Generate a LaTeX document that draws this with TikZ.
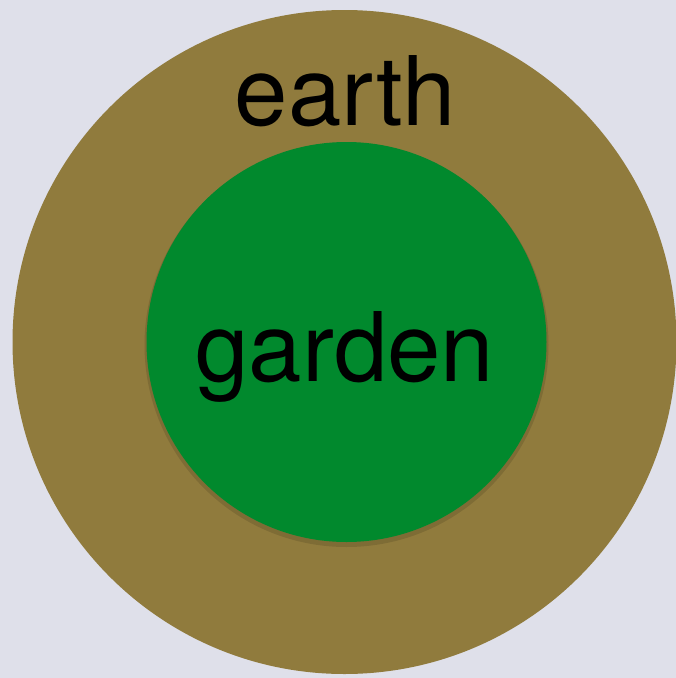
\documentclass[tikz,border=0pt]{standalone}
\usepackage{fontspec}
\setmainfont{TeX Gyre Heros}
\usepackage{xcolor}

\definecolor{backdrop}{HTML}{DFE0EA}
\definecolor{soil}{HTML}{907B3D}
\definecolor{lawn}{HTML}{01892D}

\tikzset{
    disc/.style={circle, inner sep=0pt, draw=none},
    word/.style={anchor=base, inner sep=0pt, font=\fontsize{96}{96}\selectfont}
}

\begin{document}
\begin{tikzpicture}[x=1pt, y=-1pt]
            % backdrop
            \fill[backdrop] (0,0) rectangle (676,678);
            \useasboundingbox (0,0) rectangle (676,678);

            \node[disc, fill=soil, minimum size=664pt] (earthdisc) at (344.5,342) {};
            \fill[black, opacity=0.12] (346.5,345) circle[radius=202];
            \node[disc, fill=lawn, minimum size=400pt] (gardendisc) at (346.5,342) {};

            \node[word] (earth) at (345.5,125) {earth};
            \node[word] (garden) at (345,381) {garden};
        \end{tikzpicture}
\end{document}
